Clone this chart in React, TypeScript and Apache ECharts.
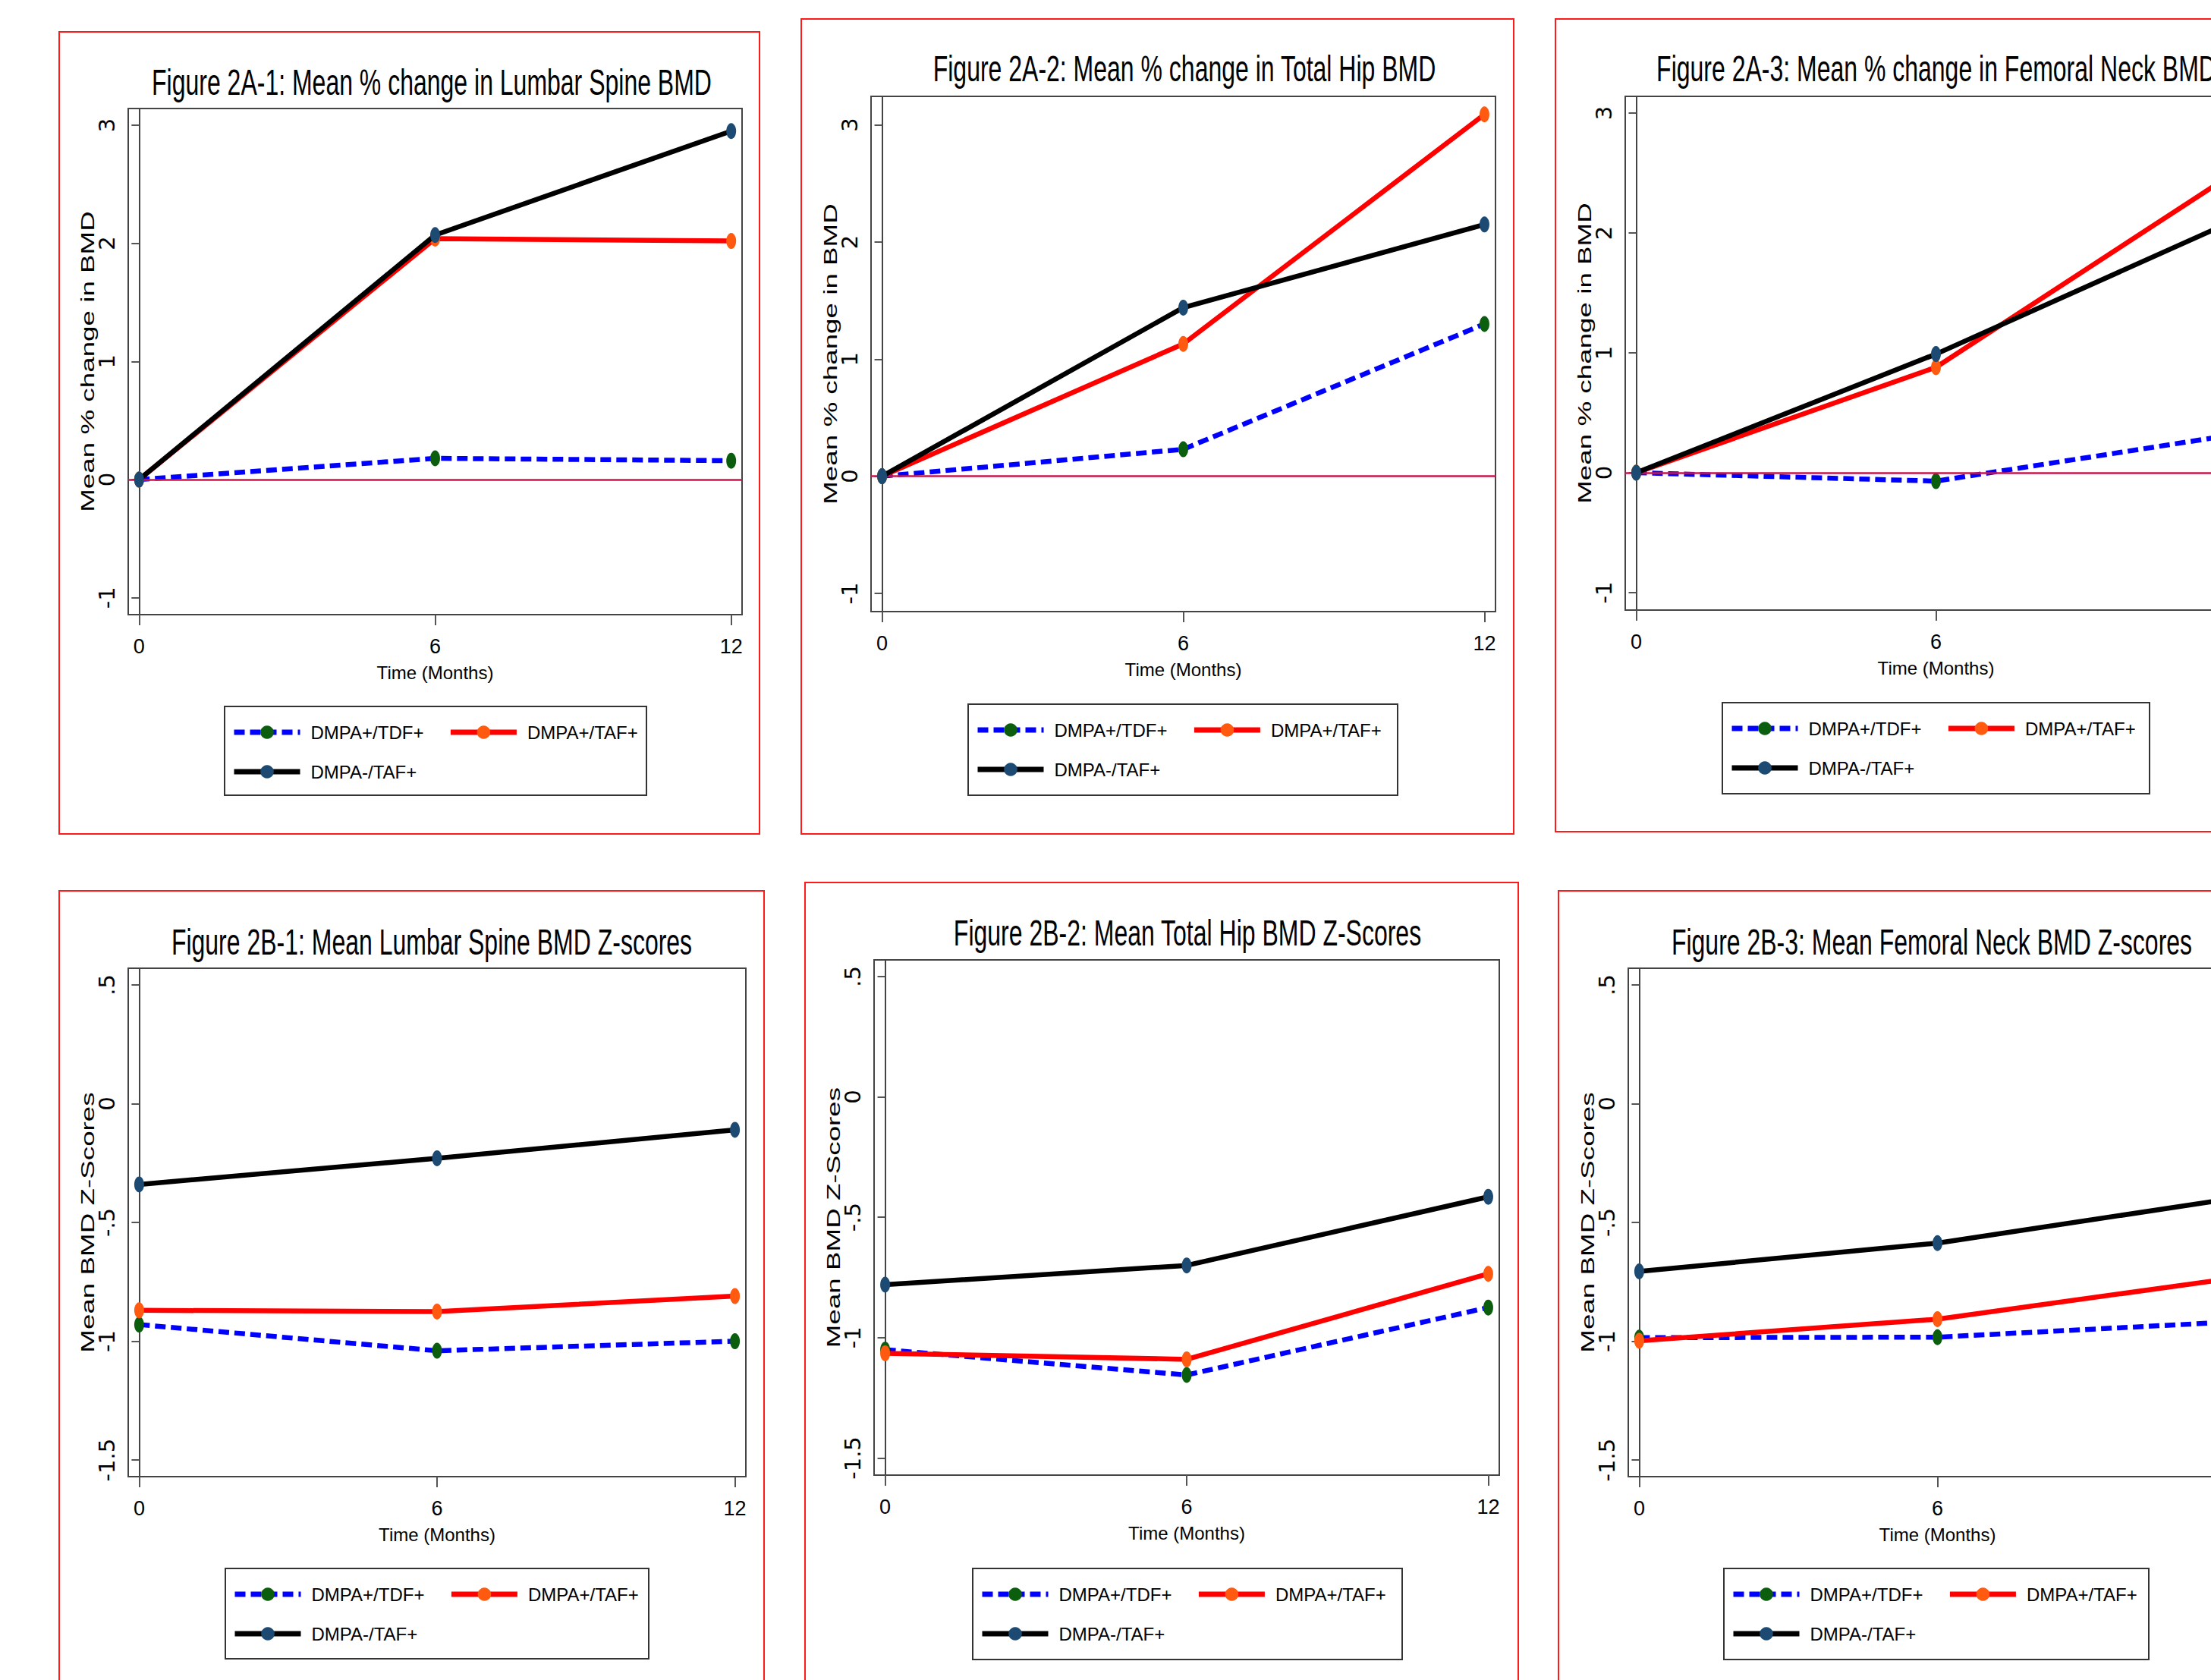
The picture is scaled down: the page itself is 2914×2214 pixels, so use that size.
import React, { useEffect, useRef } from "react";
import * as echarts from "echarts";

// ---------- data ----------
const months = [0, 6, 12];
const groupNames = ["DMPA+/TDF+", "DMPA+/TAF+", "DMPA-/TAF+"];
const xTickValues = [0, 6, 12];
const xTickValuesCropped = [0, 6]; // month 12 lies beyond the picture's right edge
const pctTickValues = [-1, 0, 1, 2, 3];
const zTickValues = [-1.5, -1, -0.5, 0, 0.5];

// Figure 2A: mean % change in BMD
const lumbarPctTDF = [0, 0.18, 0.16];
const lumbarPctTAF = [0, 2.04, 2.02];
const lumbarPctNoDMPA = [0, 2.07, 2.95];
const hipPctTDF = [0, 0.23, 1.3];
const hipPctTAF = [0, 1.13, 3.09];
const hipPctNoDMPA = [0, 1.44, 2.15];
const neckPctTDF = [0, -0.07, 0.32];
const neckPctTAF = [0, 0.88, 2.51];
const neckPctNoDMPA = [0, 0.99, 2.11];

// Figure 2B: mean BMD Z-scores
const lumbarZTDF = [-0.93, -1.04, -1.0];
const lumbarZTAF = [-0.87, -0.875, -0.81];
const lumbarZNoDMPA = [-0.34, -0.23, -0.11];
const hipZTDF = [-1.05, -1.155, -0.875];
const hipZTAF = [-1.065, -1.09, -0.735];
const hipZNoDMPA = [-0.78, -0.7, -0.415];
const neckZTDF = [-0.985, -0.983, -0.918];
const neckZTAF = [-0.998, -0.907, -0.733];
const neckZNoDMPA = [-0.706, -0.587, -0.397];

const titles = [
  "Figure 2A-1: Mean % change in Lumbar Spine BMD",
  "Figure 2A-2: Mean % change in Total Hip BMD",
  "Figure 2A-3: Mean % change in Femoral Neck BMD",
  "Figure 2B-1: Mean Lumbar Spine BMD Z-scores",
  "Figure 2B-2: Mean Total Hip BMD Z-Scores",
  "Figure 2B-3: Mean Femoral Neck BMD Z-scores",
];
const pctAxisName = "Mean % change in BMD";
const zAxisName = "Mean BMD Z-Scores";
const xAxisName = "Time (Months)";

// ---------- styles / layout ----------
const SANS = "'Liberation Sans', Arial, sans-serif";
const WIDE = "'DejaVu Sans', 'Liberation Sans', sans-serif";

const groupStyles = [
  { line: "#0000ff", marker: "#0b5e0e", dash: [14, 7] as any },
  { line: "#ff0000", marker: "#ff5a0f", dash: "solid" as any },
  { line: "#000000", marker: "#1c4a72", dash: "solid" as any },
];

const panels = [
  {
    values: [lumbarPctTDF, lumbarPctTAF, lumbarPctNoDMPA], ticks: pctTickValues, yName: pctAxisName,
    xTicks: xTickValues,
    yMin: -1.143, yMax: 3.141, grid: { left: 169, top: 143, width: 809, height: 667 },
    titlePos: [569, 108], legendBox: [296, 931, 556, 117], zero: true, border: [78, 42, 923, 1057],
  },
  {
    values: [hipPctTDF, hipPctTAF, hipPctNoDMPA], ticks: pctTickValues, yName: pctAxisName,
    xTicks: xTickValues,
    yMin: -1.156, yMax: 3.244, grid: { left: 1148, top: 127, width: 823, height: 679 },
    titlePos: [1561, 90], legendBox: [1276, 928, 566, 120], zero: true, border: [1056, 25, 939, 1074],
  },
  {
    values: [neckPctTDF, neckPctTAF, neckPctNoDMPA], ticks: pctTickValues, yName: pctAxisName,
    xTicks: xTickValuesCropped,
    yMin: -1.146, yMax: 3.14, grid: { left: 2142, top: 127, width: 819, height: 677 },
    titlePos: [2552, 90], legendBox: [2270, 926, 563, 120], zero: true, border: [2050, 25, 1000, 1071],
  },
  {
    values: [lumbarZTDF, lumbarZTAF, lumbarZNoDMPA], ticks: zTickValues, yName: zAxisName,
    xTicks: xTickValues,
    yMin: -1.57, yMax: 0.57, grid: { left: 169, top: 1276, width: 814, height: 670 },
    titlePos: [569, 1241], legendBox: [297, 2067, 558, 119], zero: false, border: [78, 1174, 929, 1100],
  },
  {
    values: [hipZTDF, hipZTAF, hipZNoDMPA], ticks: zTickValues, yName: zAxisName,
    xTicks: xTickValues,
    yMin: -1.571, yMax: 0.569, grid: { left: 1152, top: 1265, width: 824, height: 679 },
    titlePos: [1565, 1229], legendBox: [1282, 2067, 566, 120], zero: false, border: [1061, 1163, 940, 1100],
  },
  {
    values: [neckZTDF, neckZTAF, neckZNoDMPA], ticks: zTickValues, yName: zAxisName,
    xTicks: xTickValuesCropped,
    yMin: -1.57, yMax: 0.57, grid: { left: 2146, top: 1276, width: 815, height: 670 },
    titlePos: [2546, 1241], legendBox: [2272, 2067, 560, 120], zero: false, border: [2054, 1174, 1000, 1100],
  },
];

const stataNum = (v: number) => {
  if (v === 0) return "0";
  const s = String(v);
  return s.replace(/^(-?)0\./, "$1.");
};

function buildOption() {
  const graphics: any[] = [];
  const legends: any[] = [];
  panels.forEach((p, i) => {
    const [bx, by, bw, bh] = p.border;
    graphics.push({
      type: "rect", silent: true, z: 0,
      shape: { x: bx, y: by, width: bw, height: bh },
      style: { fill: "none", stroke: "#ff1a1a", lineWidth: 2 },
    });
    const [lx, ly, lw, lh] = p.legendBox;
    graphics.push({
      type: "rect", silent: true, z: 0,
      shape: { x: lx, y: ly, width: lw, height: lh },
      style: { fill: "#ffffff", stroke: "#333", lineWidth: 2 },
    });
    graphics.push({
      type: "text", silent: true, z: 10,
      x: p.titlePos[0], y: p.titlePos[1], scaleY: 1.53,
      style: {
        text: titles[i], fontSize: 32, fontFamily: SANS, fill: "#000",
        align: "center", verticalAlign: "middle",
      },
    });
    graphics.push({
      type: "text", silent: true, z: 10,
      x: p.grid.left - 53, y: p.grid.top + p.grid.height / 2,
      rotation: Math.PI / 2, scaleX: 1.6,
      style: {
        text: p.yName, fontSize: 23, fontFamily: SANS, fill: "#000",
        align: "center", verticalAlign: "middle",
      },
    });
    const legendBase = {
      orient: "horizontal", selectedMode: false,
      itemWidth: 87, itemHeight: 22, itemGap: 32, padding: 0,
      lineStyle: { width: 7 },
      textStyle: { fontFamily: SANS, fontSize: 24, color: "#000", padding: [0, 0, 0, 9] },
    };
    legends.push({ ...legendBase, left: lx + 9, top: ly + 22, data: groupNames.slice(0, 2) });
    legends.push({ ...legendBase, left: lx + 9, top: ly + 74, data: groupNames.slice(2) });
  });

  return {
    animation: false,
    backgroundColor: "#ffffff",
    grid: panels.map((p) => ({
      ...p.grid, show: true, borderColor: "#444", borderWidth: 2,
      backgroundColor: "#ffffff", containLabel: false, outerBoundsMode: "none",
    })),
    xAxis: panels.map((p, i) => ({
      type: "value", gridIndex: i, min: -0.22, max: 12.22,
      name: xAxisName, nameLocation: "middle", nameGap: 64,
      nameTextStyle: { fontFamily: SANS, fontSize: 24, color: "#000" },
      axisLine: { show: true, onZero: false, lineStyle: { color: "#444", width: 2 } },
      axisTick: { show: true, customValues: p.xTicks, length: 14, lineStyle: { color: "#555", width: 2 } },
      axisLabel: { show: true, customValues: p.xTicks, fontFamily: SANS, fontSize: 27, color: "#000", margin: 28 },
      splitLine: { show: false },
    })),
    yAxis: panels.map((p, i) => ({
      type: "value", gridIndex: i, min: p.yMin, max: p.yMax,
      axisLine: { show: true, lineStyle: { color: "#444", width: 2 } },
      axisTick: { show: true, customValues: p.ticks, length: 10, lineStyle: { color: "#555", width: 2 } },
      axisLabel: {
        show: true, customValues: p.ticks, rotate: 90, fontFamily: WIDE, fontSize: 29,
        color: "#000", margin: 14, formatter: (v: number) => stataNum(v),
      },
      splitLine: { show: false },
    })),
    legend: legends,
    series: panels.flatMap((p, i) =>
      p.values.map((vals, j) => {
        const st = groupStyles[j];
        const s: any = {
          type: "line", name: groupNames[j], xAxisIndex: i, yAxisIndex: i,
          data: months.map((m, k) => [m, vals[k]]),
          symbol: "circle", symbolSize: [13, 21], showSymbol: true, silent: true,
          z: 3 + j,
          itemStyle: { color: st.marker },
          lineStyle: { color: st.line, width: 6.5, type: st.dash, cap: "butt" },
          emphasis: { disabled: true },
        };
        if (j === 0 && p.zero) {
          s.markLine = {
            silent: true, symbol: ["none", "none"], label: { show: false },
            lineStyle: { color: "#c8174b", width: 2.5, type: "solid" },
            emphasis: { disabled: true },
            data: [{ yAxis: 0 }],
          };
        }
        return s;
      })
    ),
    graphic: { elements: graphics },
  };
}

export default function App() {
  const ref = useRef<HTMLDivElement>(null);
  useEffect(() => {
    if (!ref.current) return;
    const chart = echarts.init(ref.current, undefined, { renderer: "svg" });
    chart.setOption(buildOption() as any);
    return () => chart.dispose();
  }, []);
  return (
    <div
      ref={ref}
      style={{ position: "absolute", left: 0, top: 0, width: 2914, height: 2214, background: "#ffffff" }}
    />
  );
}
